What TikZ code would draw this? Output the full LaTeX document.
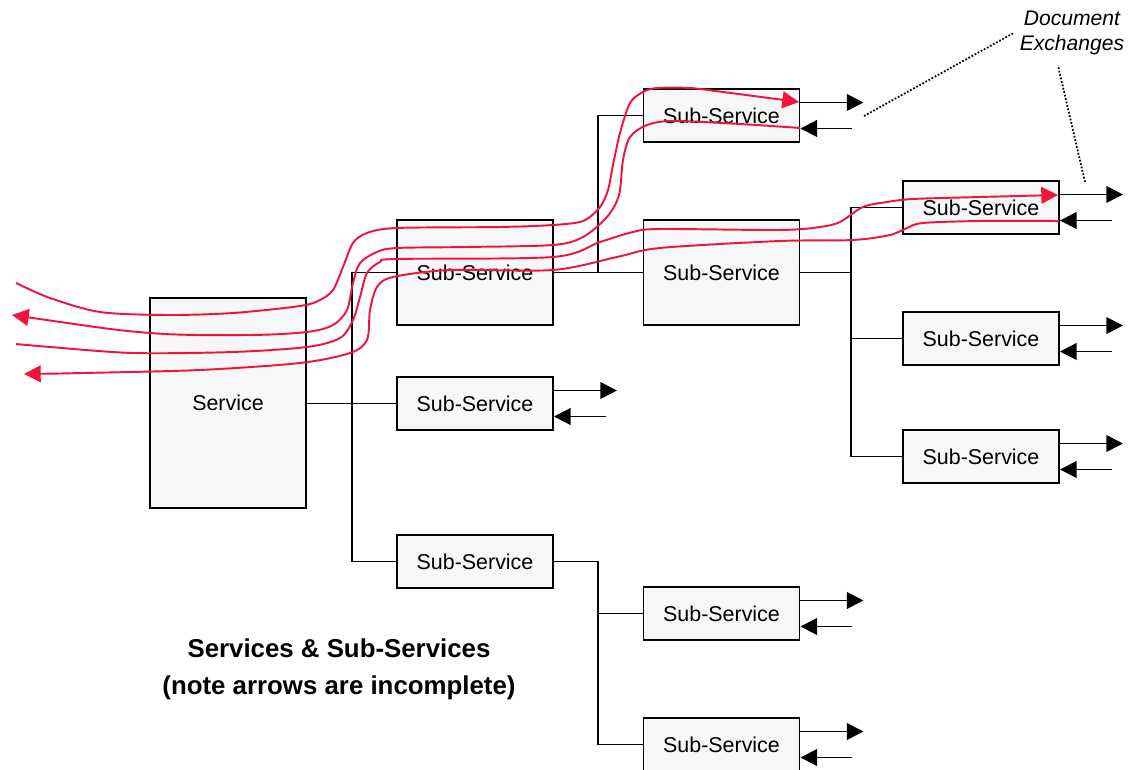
\documentclass[tikz,border=0pt]{standalone}
\usepackage{fontspec}
\setmainfont{Liberation Sans}
\usetikzlibrary{arrows.meta, calc}
\definecolor{BoxFill}{RGB}{247,247,247}
\definecolor{InkRed}{RGB}{240,20,60}

\begin{document}
\begin{tikzpicture}[x=0.02cm, y=-0.02cm,
          sub/.style={rectangle, draw, line width=1.1pt, fill=BoxFill,
                      minimum width=3.12cm, minimum height=1.06cm,
                      inner sep=0pt, font=\fontsize{12.2}{14}\selectfont},
          link/.style={line width=1.1pt},
          arr/.style={-{Triangle[length=9.5pt, width=9.5pt]}, line width=1.1pt},
          ink/.style={draw=InkRed, line width=1.1pt},
          inkout/.style={ink, -{Triangle[length=9.5pt, width=9.5pt]}},
          inkback/.style={ink, {Triangle[length=9.5pt, width=9.5pt]}-},
          lead/.style={densely dotted, line width=1pt}
        ]
        \useasboundingbox (0,0) rectangle (1130,770);

        \node[sub, minimum height=4.2cm] (svc) at (228,403) {Service};

        \node[sub, minimum height=2.1cm] (sA) at (475,272.5) {Sub-Service};
        \node[sub] (sB) at (475,403.5) {Sub-Service};
        \node[sub] (sC) at (475,561.5) {Sub-Service};

        \node[sub] (tA) at (721.5,115.5) {Sub-Service};
        \node[sub, minimum height=2.1cm] (tB) at (721.5,272.5) {Sub-Service};
        \node[sub] (bA) at (721.5,613.5) {Sub-Service};
        \node[sub] (bB) at (721.5,744.5) {Sub-Service};

        \node[sub] (rA) at (981,207.5) {Sub-Service};
        \node[sub] (rB) at (981,338.5) {Sub-Service};
        \node[sub] (rC) at (981,456.5) {Sub-Service};

        \coordinate (jA) at (352,0);
        \coordinate (jB) at (598,0);

        \draw[link] (svc.east |- sB.west) -- (sB.west);
        \draw[link] (sA.west) -| (jA |- sC.west) -- (sC.west);
        \draw[link] (sA.east) -- (tB.west);
        \draw[link] (tA.west) -| (jB |- sA.east);
        \draw[link] (sC.east) -| (jB |- bB.west) -- (bB.west);
        \draw[link] (bA.west) -- (jB |- bA.west);
        \draw[link] (tB.east) -- ++(51,0) coordinate (jC);
        \draw[link] (rA.west) -| (jC |- rC.west) -- (rC.west);
        \draw[link] (rB.west) -- (jC |- rB.west);

        \foreach \n in {tA,sB,rA,rB,rC,bA,bB} {
          \draw[arr] (\n.east) ++(0,-13) -- ++(63,0);
          \draw[arr] (\n.east) ++(52,13) -- ++(-52,0);
        }

        \node[font=\fontsize{12}{14.7}\selectfont\itshape, align=center]
              (docx) at (1072,33) {Document\\Exchanges};
        \coordinate (dA) at (864,116);
        \coordinate (dB) at (1085,182);
        \draw[lead] (dA) -- (docx.west);
        \draw[lead] (dB) -- ($(docx.south)+(-14,4)$);

        \node[font=\fontsize{14.7}{21}\selectfont\bfseries, align=center]
              (title) at (339,669) {Services \& Sub-Services\\(note arrows are incomplete)};

        \draw[inkout] plot[smooth] coordinates {(16,283) (50,298) (100,312)
              (167,315) (233,313) (300,306) (320,300) (333,290) (343,267)
              (353,243) (367,233) (397,228) (500,227) (553,225) (583,221)
              (600,207) (608,190) (613,165) (620,133) (630,103) (643,92)
              (657,88) (690,88) (723,92) (799,102)};
        \draw[inkback] plot[smooth] coordinates {(12,315) (150,333) (250,335)
              (307,332) (333,325) (347,310) (353,283) (360,263) (377,252)
              (397,248) (467,247) (553,245) (583,237) (607,217) (619,195)
              (623,160) (630,137) (647,125) (673,121) (740,124) (800,128)};
        \draw[inkout] plot[smooth] coordinates {(16,344) (50,347) (133,353)
              (233,352) (307,347) (340,338) (353,320) (360,297) (367,273)
              (380,262) (397,259) (553,257) (600,242) (633,232) (660,229)
              (780,230) (820,227) (840,222) (863,207) (887,202) (913,199)
              (980,197) (1058,195)};
        \draw[inkback] plot[smooth] coordinates {(24,374) (83,373) (200,370)
              (300,363) (350,353) (367,340) (370,310) (377,287) (393,277)
              (450,270) (553,270) (617,257) (660,248) (780,241) (853,240)
              (890,235) (907,228) (923,223) (980,221) (1059,221)};
      \end{tikzpicture}
\end{document}
